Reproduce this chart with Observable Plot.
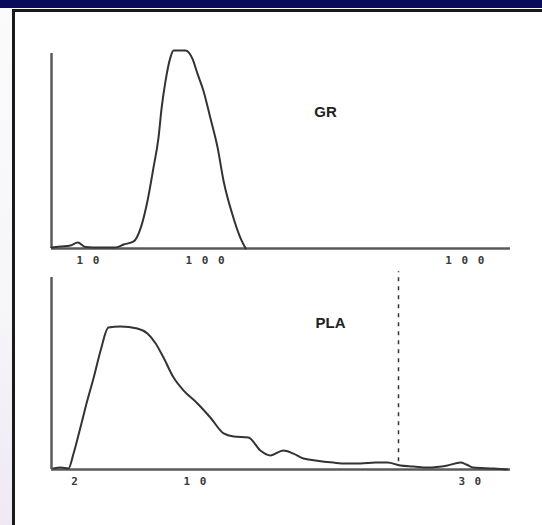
<!DOCTYPE html>
<html>
<head>
<meta charset="utf-8">
<script src="https://cdn.jsdelivr.net/npm/d3@7"></script>
<script src="https://cdn.jsdelivr.net/npm/@observablehq/plot@0.6"></script>
<style>
  html, body { margin: 0; padding: 0; width: 542px; height: 525px; overflow: hidden; background: #fff; }
  #page { position: relative; width: 542px; height: 525px; overflow: hidden;
          background: linear-gradient(to bottom, #fbfbfc 0%, #f6f5f8 60%, #efe9f3 100%); }
  #band { position: absolute; left: 0; top: 0; width: 542px; height: 8px; background: #0b0b5c; }
  #frame { position: absolute; left: 12px; top: 9px; width: 600px; height: 600px;
           border-left: 3px solid #1a1a1a; border-top: 3px solid #1a1a1a; background: #fff; }
  .panel { position: absolute; left: 0; }
  .panel svg { overflow: visible; }
</style>
</head>
<body>
<div id="page">
  <div id="band"></div>
  <div id="frame"></div>
  <div id="top" class="panel" style="top:0px"></div>
  <div id="bot" class="panel" style="top:270px"></div>
</div>
<script>
// ---- data (x: channel 0..100, y: relative count 0..100) ----
const grX = [0, 2, 4.1, 5.7, 7.4, 10.7, 13.9, 15.7, 17.9, 19.4, 20.9, 22.2, 23.3, 24.0, 24.8, 25.9, 26.6, 29.2, 30.7, 31.8, 33.1, 34.6, 36.2, 37.5, 39.4, 41.2, 42.3];
const grY = [0.5, 1, 1.5, 3, 0.8, 0.5, 0.5, 2, 3.6, 10.2, 23.9, 40.6, 55.8, 71.1, 84, 96.4, 100, 100, 95.9, 88.3, 79.7, 66, 50.8, 34, 17.3, 5.1, 0];

const plaX = [0.4, 2.0, 3.7, 4.8, 6.3, 7.8, 9.2, 10.7, 12.4, 15.0, 18.7, 20.9, 22.7, 24.4, 26.6, 28.8, 31.8, 34.6, 37.5, 39.7, 42.9, 45.5, 47.7, 50.5, 52.7, 54.9, 57.5, 61.4, 64.1, 67.3, 70.6, 73.2, 76.0, 78.9, 81.9, 86.3, 89.1, 90.4, 91.9, 96.3, 99.3];
const plaY = [0.5, 1.0, 0.5, 8.3, 21.9, 35.9, 47.9, 62, 74, 74.5, 73.4, 70.8, 65.6, 58.3, 47.9, 41.1, 34.4, 27.1, 18.8, 17.2, 16.7, 9.9, 7.3, 9.9, 8.3, 5.7, 4.7, 3.6, 3.1, 3.1, 3.6, 3.6, 2.1, 1.6, 1.0, 2.1, 3.6, 2.6, 1.0, 0.5, 0];

const grTicks = [8.1, 33.6, 90.2];
const grTickLabels = ["10", "100", "100"];
const plaTicks = [5.2, 31.4, 91.3];
const plaTickLabels = ["2", "10", "30"];

const plaCutoff = 75.6;
const panelLabels = ["GR", "PLA"];
const labelPos = [[59.7, 68.7], [60.8, 76]];

const grData = grX.map((x, i) => ({x, y: grY[i]}));
const plaData = plaX.map((x, i) => ({x, y: plaY[i]}));

const axisColor = "#5a5a5a";
const curveColor = "#333";
const tickFont = "'DejaVu Sans Mono', monospace";

function tickAxis(ticks, labels, pad) {
  const lab = new Map(ticks.map((t, i) => [t, labels[i]]));
  return Plot.axisX({
    ticks, tickSize: 0, tickPadding: pad,
    tickFormat: d => lab.get(d).split("").join(" "),
    fontSize: 11, fontWeight: "bold", fill: "#3a3a3a", label: null,
    fontFamily: tickFont
  });
}

const topPlot = Plot.plot({
  width: 542, height: 270,
  marginLeft: 51, marginRight: 32, marginTop: 50, marginBottom: 22,
  x: {domain: [0, 100]},
  y: {domain: [0, 100], axis: null},
  style: {background: "transparent", fontFamily: "Arial, 'Liberation Sans', sans-serif"},
  marks: [
    tickAxis(grTicks, grTickLabels, 8),
    Plot.ruleY([0], {stroke: axisColor, strokeWidth: 2.5}),
    Plot.ruleX([0], {y1: 0, y2: 98.5, stroke: axisColor, strokeWidth: 2.5}),
    Plot.line(grData, {x: "x", y: "y", stroke: curveColor, strokeWidth: 2, curve: "monotone-x"}),
    Plot.text([panelLabels[0]], {x: labelPos[0][0], y: labelPos[0][1], text: d => d,
      fontSize: 15, fontWeight: "bold", fill: "#222"})
  ]
});
document.getElementById("top").appendChild(topPlot);

const botPlot = Plot.plot({
  width: 542, height: 255,
  marginLeft: 51, marginRight: 32, marginTop: 7, marginBottom: 56,
  x: {domain: [0, 100]},
  y: {domain: [0, 100], axis: null},
  style: {background: "transparent", fontFamily: "Arial, 'Liberation Sans', sans-serif"},
  marks: [
    tickAxis(plaTicks, plaTickLabels, 8),
    Plot.ruleY([0], {stroke: axisColor, strokeWidth: 2.5}),
    Plot.ruleX([0], {y1: 0, y2: 100, stroke: axisColor, strokeWidth: 2.5}),
    Plot.ruleX([plaCutoff], {y1: 4, y2: 103, stroke: "#333", strokeWidth: 1.5, strokeDasharray: "4,5"}),
    Plot.line(plaData, {x: "x", y: "y", stroke: curveColor, strokeWidth: 2, curve: "monotone-x"}),
    Plot.text([panelLabels[1]], {x: labelPos[1][0], y: labelPos[1][1], text: d => d,
      fontSize: 15, fontWeight: "bold", fill: "#222"})
  ]
});
document.getElementById("bot").appendChild(botPlot);

// widen the spaced-out tick digits a little, like the reference
d3.selectAll("#top svg g[aria-label='x-axis tick label'] text, #bot svg g[aria-label='x-axis tick label'] text")
  .style("letter-spacing", "1.5px");
</script>
</body>
</html>
